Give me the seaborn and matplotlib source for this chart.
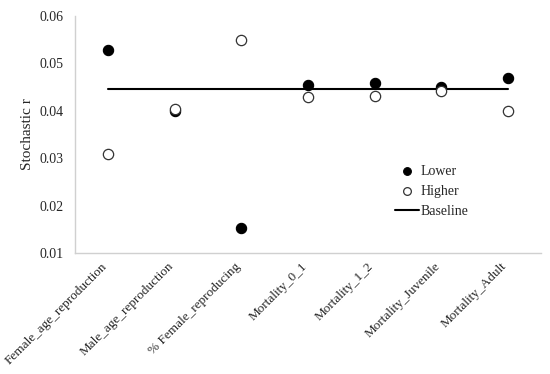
import pandas as pd
import matplotlib.pyplot as plt
import matplotlib.transforms as mtransforms
import seaborn as sns

sns.set_style("white")
plt.rcParams['font.family'] = ['Liberation Serif', 'DejaVu Serif']

# data
categories = ["Female_age_reproduction", "Male_age_reproduction", "% Female_reproducing",
              "Mortality_0_1", "Mortality_1_2", "Mortality_Juvenile", "Mortality_Adult"]
lower = [0.0529, 0.0400, 0.0152, 0.0455, 0.0459, 0.0450, 0.0468]
higher = [0.0308, 0.0403, 0.0550, 0.0428, 0.0432, 0.0441, 0.0399]
baseline = [0.0445] * len(categories)

df = pd.DataFrame({"cat": categories, "Lower": lower, "Higher": higher, "Baseline": baseline})

fig = plt.figure(figsize=(5.5, 3.74), dpi=100)
ax = fig.add_axes([0.136, 0.3235, 0.848, 0.634])

sns.lineplot(data=df, x="cat", y="Baseline", ax=ax, color="black", linewidth=1.5,
             label="Baseline", sort=False, zorder=1)
sns.scatterplot(data=df, x="cat", y="Lower", ax=ax, color="black", edgecolor="black",
                s=55, linewidth=0.8, label="Lower", zorder=2)
sns.scatterplot(data=df, x="cat", y="Higher", ax=ax, color="white", edgecolor="#333333",
                s=55, linewidth=0.9, label="Higher", zorder=3)

ax.set_xlim(-0.5, len(categories) - 0.5)
ax.set_ylim(0.01, 0.06)
ax.set_yticks([0.01, 0.02, 0.03, 0.04, 0.05, 0.06])
ax.set_yticklabels([f"{v:.2f}" for v in [0.01, 0.02, 0.03, 0.04, 0.05, 0.06]])
ax.set_xlabel("")
ax.set_ylabel("Stochastic r", fontsize=11)
ax.tick_params(axis='y', length=0, labelsize=10, pad=8)
ax.tick_params(axis='x', length=0, labelsize=9.5, pad=3)
# small shift so the rotated labels end just left of each category
shift = mtransforms.ScaledTranslation(-7 / 100, -3 / 100, fig.dpi_scale_trans)
for lbl in ax.get_xticklabels():
    lbl.set_rotation(45)
    lbl.set_ha("right")
    lbl.set_rotation_mode("anchor")
    lbl.set_transform(lbl.get_transform() + shift)

for side in ["top", "right"]:
    ax.spines[side].set_visible(False)
for side in ["left", "bottom"]:
    ax.spines[side].set_color("#d0d0d0")
    ax.spines[side].set_linewidth(1)

handles, labels = ax.get_legend_handles_labels()
order = [labels.index("Lower"), labels.index("Higher"), labels.index("Baseline")]
ax.legend([handles[i] for i in order], [labels[i] for i in order], frameon=False,
          loc="center left", bbox_to_anchor=(0.66, 0.26), fontsize=10,
          handlelength=1.7, labelspacing=0.5, handletextpad=0.1, markerscale=0.75)

fig.savefig("out.png", dpi=100)
